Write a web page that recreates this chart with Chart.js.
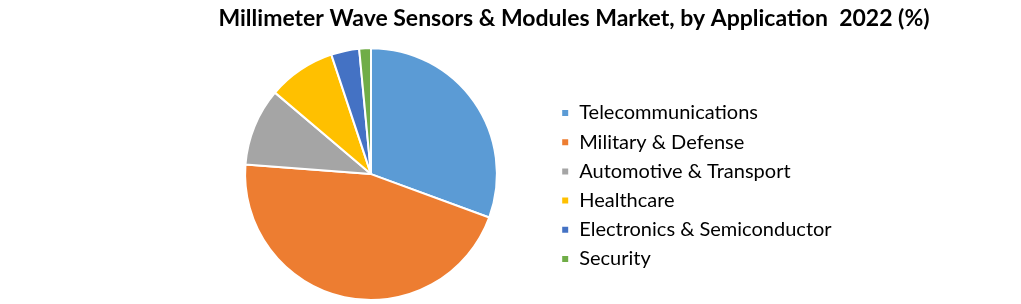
<!DOCTYPE html>
<html lang="en">
<head>
  <meta charset="UTF-8" />
  <title>Millimeter Wave Sensors & Modules Market</title>
  <script src="https://cdn.jsdelivr.net/npm/chart.js"></script>
  <style>
    body {
      margin: 0;
      background: #fff;
    }
    .wrap {
      width: 1021px;
      height: 304px;
    }
  </style>
</head>
<body>
  <div class="wrap">
    <canvas id="pieChart" width="1021" height="304"></canvas>
  </div>

  <script>
    const categories = [
      "Telecommunications",
      "Military & Defense",
      "Automotive & Transport",
      "Healthcare",
      "Electronics & Semiconductor",
      "Security"
    ];
    const shares = [30.6, 45.6, 10.0, 8.7, 3.6, 1.5];
    const sliceColors = ["#5B9BD5", "#ED7D31", "#A5A5A5", "#FFC000", "#4472C4", "#70AD47"];

    // legend box gets a fixed width so the pie sits left of it like in the original
    const legendWidth = {
      id: "legendWidth",
      beforeInit(chart) {
        const origFit = chart.legend.fit;
        chart.legend.fit = function () {
          origFit.call(this);
          this.width = 406;
        };
      }
    };

    new Chart(document.getElementById("pieChart"), {
      type: "pie",
      data: {
        labels: categories,
        datasets: [{
          data: shares,
          backgroundColor: sliceColors,
          borderColor: "#ffffff",
          borderWidth: 2
        }]
      },
      options: {
        responsive: false,
        animation: false,
        layout: {
          padding: { left: 190, right: 63, top: 0, bottom: 3 }
        },
        plugins: {
          title: {
            display: true,
            text: "Millimeter Wave Sensors & Modules Market, by Application  2022 (%)",
            color: "#000",
            font: { family: "Lato", size: 23, weight: "bold", lineHeight: 1.2 },
            padding: { top: 5, bottom: 14.6 }
          },
          legend: {
            position: "right",
            align: "center",
            // empty title only pushes the list down
            title: {
              display: true,
              text: "",
              font: { size: 10, lineHeight: 1.2 },
              padding: { top: 59, bottom: 0 }
            },
            labels: {
              color: "#000",
              boxWidth: 8,
              boxHeight: 8,
              padding: 9.2,
              font: { family: "Lato", size: 20, lineHeight: 1.2 }
            }
          },
          tooltip: { enabled: false }
        }
      },
      plugins: [legendWidth]
    });
  </script>
</body>
</html>
